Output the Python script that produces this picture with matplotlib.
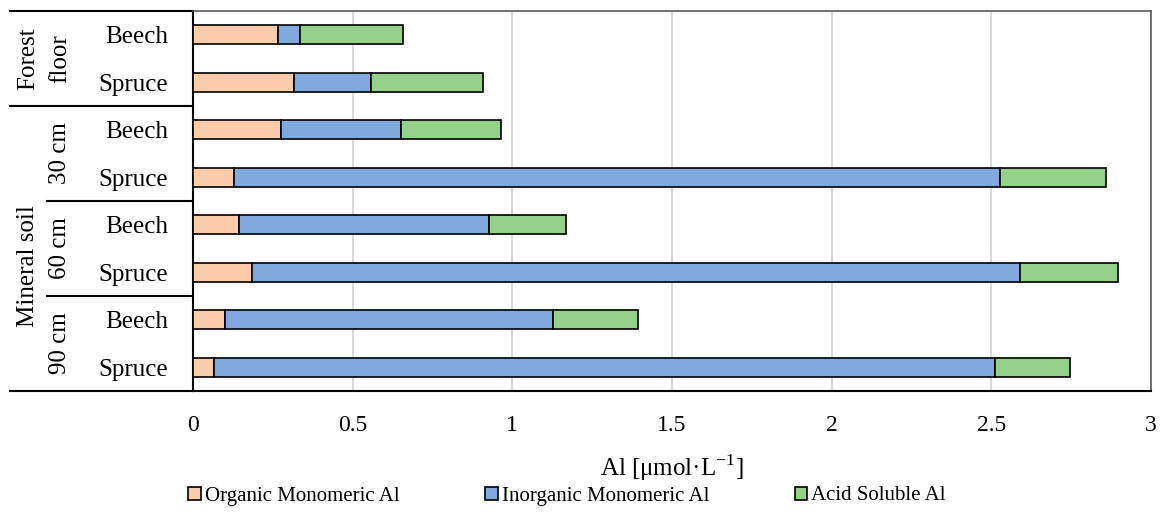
import matplotlib.pyplot as plt
import matplotlib.transforms as mtransforms
import numpy as np

plt.rcParams['font.family'] = ['Liberation Serif', 'DejaVu Serif']
plt.rcParams['mathtext.fontset'] = 'custom'
plt.rcParams['mathtext.rm'] = 'Liberation Serif'

# ---- data (segment widths, umol/L) ----
rows = ['Beech', 'Spruce', 'Beech', 'Spruce', 'Beech', 'Spruce', 'Beech', 'Spruce']
organic = [0.265, 0.315, 0.275, 0.127, 0.143, 0.186, 0.101, 0.067]
inorganic = [0.070, 0.241, 0.375, 2.401, 0.785, 2.403, 1.027, 2.444]
acid = [0.322, 0.351, 0.314, 0.330, 0.241, 0.309, 0.265, 0.235]
series_names = ['Organic Monomeric Al', 'Inorganic Monomeric Al', 'Acid Soluble Al']
colors = ['#FCCBA9', '#80AADD', '#95D289']

fig = plt.figure(figsize=(11.6, 5.14), dpi=100)
ax = fig.add_axes([193/1160, 1-391/514, 958/1160, 380/514])

y = np.arange(len(rows))
left = np.zeros(len(rows))
for vals, name, c in zip([organic, inorganic, acid], series_names, colors):
    ax.barh(y, vals, left=left, height=0.4, color=c, edgecolor='black',
            linewidth=1.2, label=name, zorder=3)
    left = left + np.array(vals)

ax.set_xlim(0, 3)
ax.set_ylim(7.5, -0.5)
ax.set_xticks(np.arange(0, 3.01, 0.5))
ax.set_xticklabels(['0', '0.5', '1', '1.5', '2', '2.5', '3'])
ax.set_yticks(y)
ax.set_yticklabels(rows)
ax.tick_params(axis='x', length=0, pad=17, labelsize=17)
ax.tick_params(axis='y', length=0, pad=18, labelsize=18)
ax.grid(axis='x', color='#d9d9d9', linewidth=1.3, zorder=0)
ax.set_axisbelow(True)
for s in ['top', 'right']:
    ax.spines[s].set_color('#595959')
    ax.spines[s].set_linewidth(1.2)
for s in ['left', 'bottom']:
    ax.spines[s].set_color('black')
    ax.spines[s].set_linewidth(1.5)

ax.set_xlabel('Al [μmol·L$^{-1}$]', fontsize=18, labelpad=12)

# ---- grouped category labels on the left ----
trans = mtransforms.blended_transform_factory(ax.transAxes, ax.transData)
x_outer = (10 - 193) / 958
x_inner = (47 - 193) / 958
for yy, x0 in [(-0.5, x_outer), (1.5, x_outer), (3.5, x_inner), (5.5, x_inner), (7.5, x_outer)]:
    ax.plot([x0, 0], [yy, yy], color='black', lw=1.5, transform=trans, clip_on=False)

x_col1 = (28 - 193) / 958
x_col2 = (60 - 193) / 958
ax.text(x_col1, 0.5, 'Forest', rotation=90, ha='center', va='center', fontsize=18, transform=trans)
ax.text(x_col2, 0.5, 'floor', rotation=90, ha='center', va='center', fontsize=18, transform=trans)
ax.text(x_col1, 4.87, 'Mineral soil', rotation=90, ha='center', va='center', fontsize=18, transform=trans)
for yc, lab in [(2.5, '30 cm'), (4.5, '60 cm'), (6.5, '90 cm')]:
    ax.text(x_col2, yc, lab, rotation=90, ha='center', va='center', fontsize=18, transform=trans)

fig.legend(loc='center', bbox_to_anchor=(567/1160, 1-496/514), ncol=3, frameon=False,
           fontsize=15, handlelength=0.6, handleheight=0.6, handletextpad=0.2,
           columnspacing=4.1, borderpad=0)

fig.savefig('out.png', dpi=100)
